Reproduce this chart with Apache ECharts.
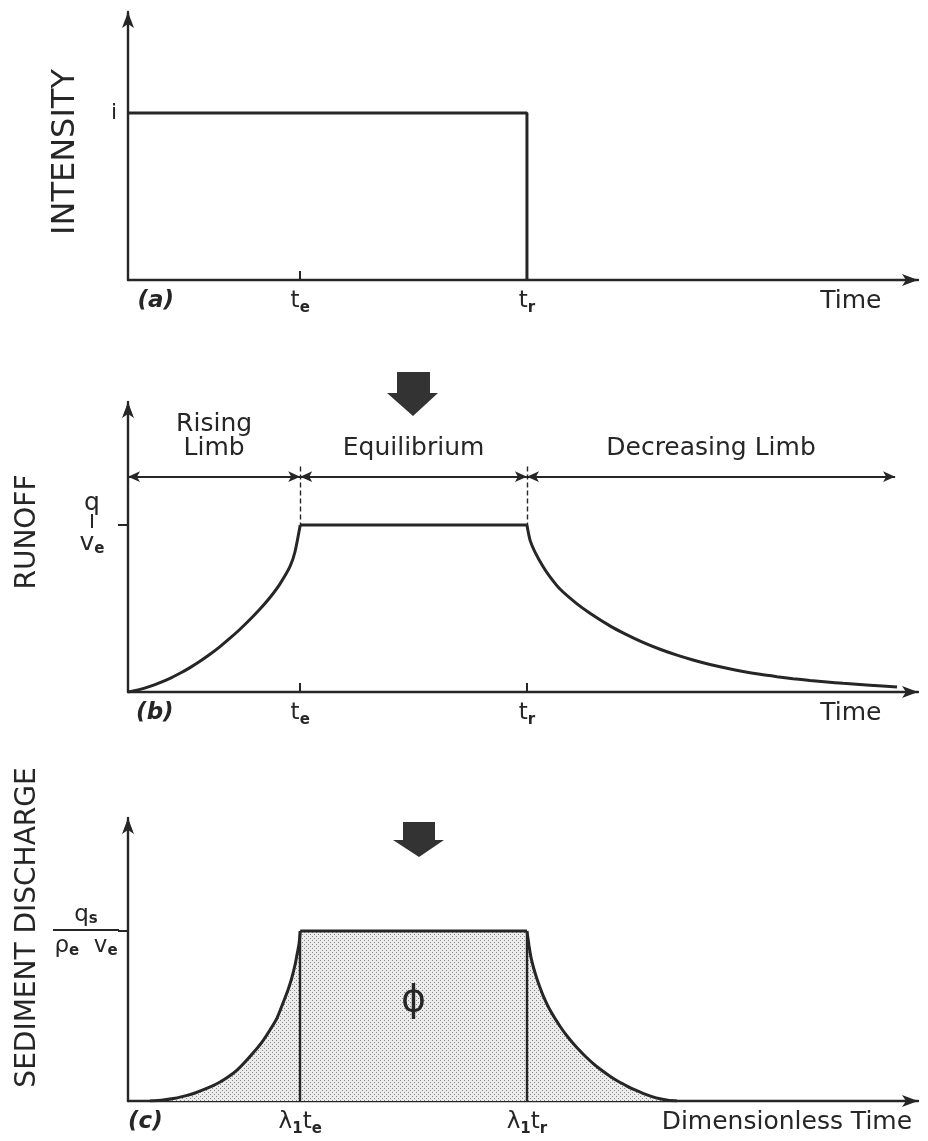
<!DOCTYPE html>
<html>
<head>
<meta charset="utf-8">
<script src="https://cdn.jsdelivr.net/npm/echarts@6/dist/echarts.min.js"></script>
<style>
html,body{margin:0;padding:0;background:#fff;}
#chart{width:928px;height:1141px;}
</style>
</head>
<body>
<div id="chart"></div>
<script>
// ---- data (time in arbitrary units, 0..100; levels normalised so plateau = 1) ----
const te = 21.8;           // time to equilibrium
const tr = 50.5;           // rainfall duration
const xMax = 100;

// (a) rainfall intensity
const intensityTime  = [0, 50.5, 50.5];
const intensityValue = [1, 1, 0];

// (b) runoff hydrograph
const runoffRiseTime  = [0, 1.52, 2.78, 4.05, 5.32, 6.58, 7.85, 9.11, 10.38, 11.65, 12.91, 14.18, 15.44, 16.71, 17.97, 19.24, 20.51, 21.14, 21.8];
const runoffRiseValue = [0, 0.016, 0.034, 0.056, 0.082, 0.112, 0.146, 0.184, 0.226, 0.272, 0.322, 0.376, 0.434, 0.497, 0.566, 0.648, 0.752, 0.84, 1.0];
const runoffFlatTime  = [21.8, 50.5];
const runoffFlatValue = [1, 1];
const runoffFallTime  = [50.5, 50.89, 51.52, 52.53, 53.42, 54.68, 56.84, 58.48, 61.01, 62.91, 65.19, 67.34, 69.49, 71.52, 73.67, 75.82, 77.85, 80.0, 82.15, 84.18, 86.33, 88.48, 90.51, 93.92, 97.34];
const runoffFallValue = [1.0, 0.91, 0.838, 0.752, 0.69, 0.617, 0.528, 0.472, 0.396, 0.348, 0.297, 0.256, 0.221, 0.192, 0.165, 0.142, 0.123, 0.106, 0.092, 0.08, 0.069, 0.06, 0.052, 0.041, 0.03];

// (c) sediment discharge
const sedRiseTime  = [2.78, 4.43, 5.95, 7.47, 8.48, 9.49, 10.63, 11.65, 12.66, 13.8, 14.81, 15.82, 16.96, 17.97, 18.86, 19.62, 20.25, 20.76, 21.14, 21.39, 21.65, 21.8];
const sedRiseValue = [0, 0.006, 0.016, 0.033, 0.047, 0.065, 0.088, 0.112, 0.141, 0.182, 0.229, 0.282, 0.347, 0.418, 0.488, 0.576, 0.653, 0.729, 0.8, 0.86, 0.925, 1.0];
const sedFlatTime  = [21.8, 50.5];
const sedFlatValue = [1, 1];
const sedFallTime  = [50.5, 50.76, 51.01, 51.39, 51.77, 52.15, 52.53, 53.42, 54.68, 55.7, 56.84, 57.85, 58.86, 59.87, 61.01, 62.03, 63.16, 64.18, 65.19, 66.33, 67.34, 68.35, 69.49];
const sedFallValue = [1.0, 0.915, 0.845, 0.775, 0.718, 0.668, 0.622, 0.535, 0.44, 0.375, 0.313, 0.265, 0.222, 0.184, 0.146, 0.116, 0.088, 0.065, 0.045, 0.026, 0.013, 0.005, 0];

// limb annotations (b)
const limbLevel = 1.29;
const limbEnds = [0, te, tr, 97.1];
const limbNames = ['Rising\nLimb', 'Equilibrium', 'Decreasing Limb'];

// tick labels
const labelPosA = [3.5, te, tr, 91.5];
const labelTxtA = ['{it|(a)}', '{t|t}{s|e}', '{t|t}{s|r}', '{tm|Time}'];
const labelPosB = [3.4, te, tr, 91.5];
const labelTxtB = ['{it|(b)}', '{t|t}{s|e}', '{t|t}{s|r}', '{tm|Time}'];
const labelPosC = [2.2, te, tr, 83.4];
const labelTxtC = ['{it|(c)}', '{t|λ}{s|1}{t|t}{s|e}', '{t|λ}{s|1}{t|t}{s|r}', '{tm|Dimensionless Time}'];

// ---- helpers ----
const zip = (xs, ys) => xs.map((x, i) => [x, ys[i]]);
const INK = '#262626';
const FONT = 'DejaVu Sans';

const rich = {
  t:  {fontFamily: FONT, fontSize: 23, color: INK, lineHeight: 30},
  s:  {fontFamily: FONT, fontSize: 15, color: INK, verticalAlign: 'bottom', fontWeight: 'bold'},
  it: {fontFamily: FONT, fontSize: 23, color: INK, fontStyle: 'italic', fontWeight: 'bold', lineHeight: 30},
  tm: {fontFamily: FONT, fontSize: 25, color: INK, lineHeight: 30}
};

function mkX(gi, pos, txt, ticks) {
  return {
    type: 'value', gridIndex: gi, min: 0, max: xMax,
    axisLine: {show: true, onZero: false, symbol: ['none', 'arrow'], symbolSize: [9, 16],
      lineStyle: {color: INK, width: 2.4}},
    axisTick: {show: ticks, inside: true, length: 9, customValues: [te, tr],
      lineStyle: {color: INK, width: 2}},
    splitLine: {show: false},
    axisLabel: {
      show: true, margin: 6, customValues: pos,
      formatter: v => txt[pos.indexOf(v)] || '',
      rich: rich
    }
  };
}

function mkY(gi, max, name, nameSize, nameGap, namePad, label, labelMargin, labelRich, tick) {
  return {
    type: 'value', gridIndex: gi, min: 0, max: max,
    name: name, nameLocation: 'middle', nameRotate: 90, nameGap: nameGap,
    nameTextStyle: {fontFamily: FONT, fontSize: nameSize, color: INK, padding: namePad},
    axisLine: {show: true, onZero: false, symbol: ['none', 'arrow'], symbolSize: [9, 16],
      lineStyle: {color: INK, width: 2.4}},
    axisTick: {show: tick, inside: false, length: 10, customValues: [1],
      lineStyle: {color: INK, width: 2}},
    splitLine: {show: false},
    axisLabel: {show: true, customValues: [1], margin: labelMargin, align: 'center',
      formatter: () => label, rich: labelRich}
  };
}

// stipple pattern for the shaded area
const pat = document.createElement('canvas');
pat.width = 4; pat.height = 4;
(function () {
  const c = pat.getContext('2d');
  c.fillStyle = '#ececec'; c.fillRect(0, 0, 4, 4);
  c.fillStyle = '#888888';
  c.fillRect(0, 0, 1, 1); c.fillRect(2, 2, 1, 1);
})();
const stipple = {image: pat, repeat: 'repeat'};

const lineSty = {color: INK, width: 3};
const SM = 0.25;

const chart = echarts.init(document.getElementById('chart'), null, {renderer: 'canvas'});

const option = {
  animation: false,
  backgroundColor: '#ffffff',
  grid: [
    {left: 128, right: 10, top: 12, height: 268},
    {left: 128, right: 10, top: 402, height: 290},
    {left: 128, right: 10, top: 818, height: 283}
  ],
  xAxis: [
    mkX(0, labelPosA, labelTxtA, true),
    mkX(1, labelPosB, labelTxtB, true),
    mkX(2, labelPosC, labelTxtC, false)
  ],
  yAxis: [
    mkY(0, 1.605, 'INTENSITY', 32, 46, [0, 12, 0, 0], '{i|i}', 14,
      {i: {fontFamily: FONT, fontSize: 22, color: INK}}, false),
    mkY(1, 1.737, 'RUNOFF', 28, 86, [0, 0, 0, 30], '{n|q}\n{vb| }\n{d|v}{ds|e}', 36,
      {n: {fontFamily: FONT, fontSize: 25, color: INK, lineHeight: 20},
       vb: {width: 2, height: 14, lineHeight: 16, backgroundColor: INK},
       d: {fontFamily: FONT, fontSize: 25, color: INK, lineHeight: 28},
       ds: {fontFamily: FONT, fontSize: 15, color: INK, verticalAlign: 'bottom', fontWeight: 'bold'}}, true),
    mkY(2, 1.665, 'SEDIMENT DISCHARGE', 28, 86, [0, 0, 0, 64], '{n|q}{ns|s}\n{bar| }\n{d|ρ}{ds|e}{d|  v}{ds|e}', 42,
      {n: {fontFamily: FONT, fontSize: 23, color: INK, lineHeight: 24},
       ns: {fontFamily: FONT, fontSize: 15, color: INK, verticalAlign: 'bottom', fontWeight: 'bold'},
       bar: {width: 66, height: 2, lineHeight: 6, backgroundColor: INK},
       d: {fontFamily: FONT, fontSize: 23, color: INK, lineHeight: 26},
       ds: {fontFamily: FONT, fontSize: 15, color: INK, verticalAlign: 'bottom', fontWeight: 'bold'}}, true)
  ],
  series: [
    // (a)
    {type: 'line', xAxisIndex: 0, yAxisIndex: 0, data: zip(intensityTime, intensityValue),
      symbol: 'none', lineStyle: lineSty, silent: true},
    // (b)
    {type: 'line', xAxisIndex: 1, yAxisIndex: 1, data: zip(runoffRiseTime, runoffRiseValue),
      symbol: 'none', smooth: SM, lineStyle: lineSty, silent: true},
    {type: 'line', xAxisIndex: 1, yAxisIndex: 1, data: zip(runoffFlatTime, runoffFlatValue),
      symbol: 'none', lineStyle: lineSty, silent: true,
      markLine: {
        silent: true, symbol: ['arrow', 'arrow'], symbolSize: [8, 12],
        lineStyle: {color: INK, width: 2, type: 'solid'},
        label: {show: true, position: 'insideMiddleTop', distance: 16, formatter: '{b}',
          fontFamily: FONT, fontSize: 25, color: INK, lineHeight: 24},
        data: limbNames.map((nm, i) => [
          {name: nm, coord: [limbEnds[i], limbLevel]},
          {coord: [limbEnds[i + 1], limbLevel]}
        ])
      }},
    {type: 'line', xAxisIndex: 1, yAxisIndex: 1, data: zip(runoffFallTime, runoffFallValue),
      symbol: 'none', smooth: SM, lineStyle: lineSty, silent: true,
      markLine: {
        silent: true, symbol: ['none', 'none'],
        lineStyle: {color: INK, width: 1.4, type: [5, 3]},
        label: {show: false},
        data: [te, tr].map(t => [{coord: [t, 1.35]}, {coord: [t, 1.0]}])
      }},
    // (c)
    {type: 'line', xAxisIndex: 2, yAxisIndex: 2, data: zip(sedRiseTime, sedRiseValue),
      symbol: 'none', smooth: SM, lineStyle: lineSty, silent: true,
      areaStyle: {color: stipple, opacity: 1}},
    {type: 'line', xAxisIndex: 2, yAxisIndex: 2, data: zip(sedFlatTime, sedFlatValue),
      symbol: 'none', lineStyle: lineSty, silent: true,
      areaStyle: {color: stipple, opacity: 1},
      markLine: {
        silent: true, symbol: ['none', 'none'],
        lineStyle: {color: INK, width: 2.4, type: 'solid'},
        label: {show: false},
        data: [te, tr].map(t => [{coord: [t, 0]}, {coord: [t, 1]}])
      },
      markPoint: {
        silent: true, symbol: 'circle', symbolSize: 0,
        label: {show: true, position: 'inside', formatter: 'ϕ', fontFamily: FONT, fontSize: 38, color: INK},
        data: [{coord: [(te + tr) / 2, 0.59]}]
      }},
    {type: 'line', xAxisIndex: 2, yAxisIndex: 2, data: zip(sedFallTime, sedFallValue),
      symbol: 'none', smooth: SM, lineStyle: lineSty, silent: true,
      areaStyle: {color: stipple, opacity: 1}}
  ],
  graphic: [
    {type: 'polygon', silent: true,
      shape: {points: [[397, 372], [430, 372], [430, 393], [438, 393], [413, 416], [387, 393], [397, 393]]},
      style: {fill: '#333'}},
    {type: 'polygon', silent: true,
      shape: {points: [[403, 822], [435, 822], [435, 840], [444, 840], [419, 857], [393, 840], [403, 840]]},
      style: {fill: '#333'}}
  ]
};
chart.setOption(option);
</script>
</body>
</html>
